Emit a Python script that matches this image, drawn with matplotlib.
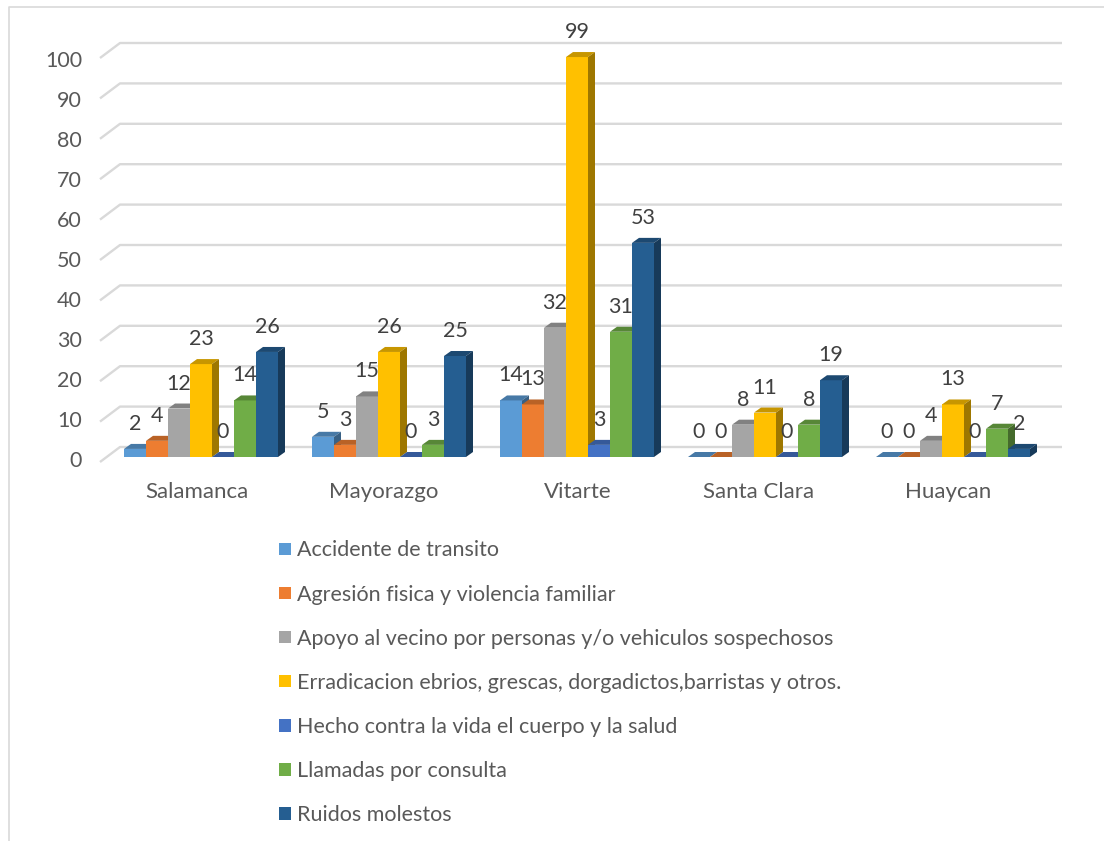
import matplotlib
matplotlib.use('Agg')
import matplotlib.pyplot as plt
from matplotlib.colors import to_rgb
from matplotlib.lines import Line2D
from matplotlib.patches import Polygon
from matplotlib.transforms import ScaledTranslation

plt.rcParams['font.family'] = ['Lato', 'DejaVu Sans']

categories = ['Salamanca', 'Mayorazgo', 'Vitarte', 'Santa Clara', 'Huaycan']
accidente = [2, 5, 14, 0, 0]
agresion = [4, 3, 13, 0, 0]
apoyo = [12, 15, 32, 8, 4]
erradicacion = [23, 26, 99, 11, 13]
hecho = [0, 0, 3, 0, 0]
llamadas = [14, 3, 31, 8, 7]
ruidos = [26, 25, 53, 19, 2]
series = [accidente, agresion, apoyo, erradicacion, hecho, llamadas, ruidos]
names = ['Accidente de transito',
         'Agresión fisica y violencia familiar',
         'Apoyo al vecino por personas y/o vehiculos sospechosos',
         'Erradicacion ebrios, grescas, dorgadictos,barristas y otros.',
         'Hecho contra la vida el cuerpo y la salud',
         'Llamadas por consulta',
         'Ruidos molestos']
colors = ['#5B9BD5', '#ED7D31', '#A5A5A5', '#FFC000', '#4472C4', '#70AD47', '#255E91']
yticks = list(range(0, 101, 10))

W, H = 1104, 841
px_x = 1 / 188.0    # one pixel in group units
px_y = 1 / 4.04     # one pixel in value units
x0 = 201            # pixel of first group centre
y0 = 457            # pixel of value 0
left, right, top = 100, 1070, 20
label_px = [197, 384, 578, 759, 948]  # category labels are not quite centred on the bars

fig = plt.figure(figsize=(W / 100, H / 100), dpi=100, facecolor='white')
ax = fig.add_axes([left / W, 1 - y0 / H, (right - left) / W, (y0 - top) / H])
ax.set_xlim((left - x0) * px_x, (right - x0) * px_x)
ax.set_ylim(0, (y0 - top) * px_y)
for s in ax.spines.values():
    s.set_visible(False)


def shade(c, f):
    return tuple(v * f for v in to_rgb(c))


# back wall gridlines and the slanted bit on the left wall
wall_dx, wall_dy, wall_drop = 20 * px_x, 10 * px_y, 15 * px_y
grid_end = (1062 - x0) * px_x
xl = (left - x0) * px_x
for t in yticks:
    back = t + wall_dy
    ax.plot([xl, xl + wall_dx, grid_end], [back - wall_drop, back, back],
            color='#D9D9D9', lw=1.7, zorder=1, clip_on=False, solid_capstyle='butt')

bw = 22 * px_x
dx, dy = 7 * px_x, 5 * px_y
n = len(series)
z = 2
for g in range(len(categories)):
    for k in range(n):
        v = series[k][g]
        xs = g + (k - n / 2) * bw
        c = colors[k]
        ax.bar(xs, v, width=bw, align='edge', color=c, zorder=z, linewidth=0)
        ax.add_patch(Polygon([(xs, v), (xs + bw, v), (xs + bw + dx, v + dy), (xs + dx, v + dy)],
                             closed=True, fc=shade(c, 0.78), ec='none', zorder=z, clip_on=False))
        ax.add_patch(Polygon([(xs + bw, 0), (xs + bw + dx, dy), (xs + bw + dx, v + dy), (xs + bw, v)],
                             closed=True, fc=shade(c, 0.62), ec='none', zorder=z))
        z += 1

# value labels go on top of all the bars
for g in range(len(categories)):
    for k in range(n):
        v = series[k][g]
        xs = g + (k - n / 2) * bw
        ax.annotate(str(v), (xs + bw / 2, v), xytext=(0, 18), textcoords='offset points',
                    ha='center', va='center', fontsize=15.5, color='#404040', zorder=100)

ax.set_yticks(yticks)
ax.tick_params(axis='y', length=0, pad=13, labelsize=15.5, labelcolor='#595959')
# axis labels sit a bit lower than the value scale
for t, lab in zip(yticks, ax.get_yticklabels()):
    lab.set_transform(lab.get_transform() + ScaledTranslation(0, -(2 + 0.04 * t) / 100, fig.dpi_scale_trans))
ax.set_xticks([(p - x0) * px_x for p in label_px])
ax.set_xticklabels(categories)
ax.tick_params(axis='x', length=0, pad=18, labelsize=16, labelcolor='#595959')

handles = [Polygon([(0, 0)], fc=c, ec='none') for c in colors]
fig.legend(handles, names, loc='upper left', bbox_to_anchor=(273 / W, 1 - 534 / H),
           frameon=False, fontsize=15.5, labelcolor='#595959', handlelength=0.52, handleheight=0.52,
           handletextpad=0.28, labelspacing=1.12, borderpad=0.3, borderaxespad=0)

# chart frame, only left and top show in the crop
fig.add_artist(Line2D([9 / W, 9 / W, 1], [0, 1 - 7 / H, 1 - 7 / H], color='#D9D9D9', lw=1.2))

fig.savefig('out.png', dpi=100)
